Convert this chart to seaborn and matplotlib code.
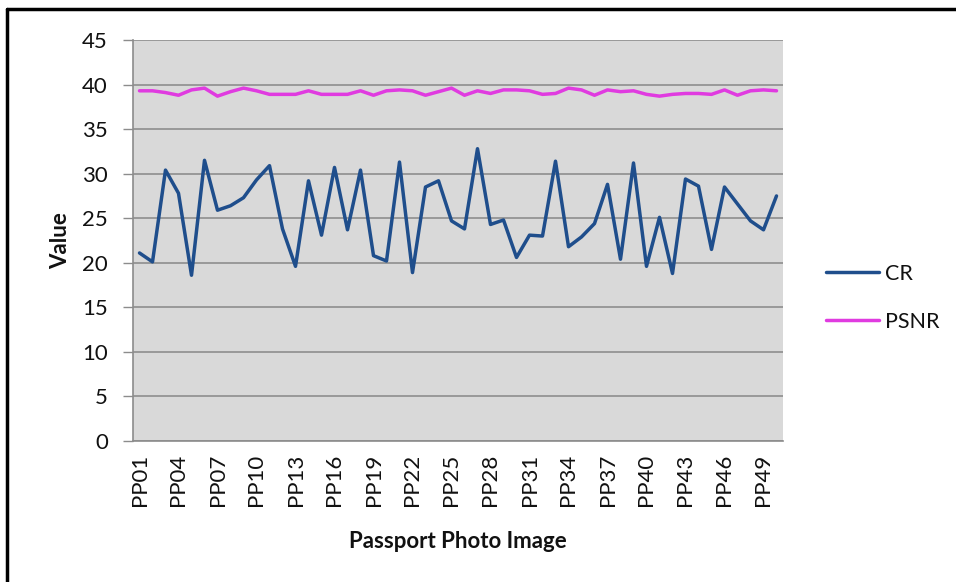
import numpy as np
import pandas as pd
import seaborn as sns
import matplotlib.pyplot as plt
from matplotlib.lines import Line2D

# Passport photo compression results
images = [f"PP{i:02d}" for i in range(1, 51)]

cr = [21.1, 20.1, 30.4, 27.8, 18.6, 31.5, 25.9, 26.4, 27.3, 29.3,
      30.9, 23.8, 19.6, 29.2, 23.1, 30.7, 23.7, 30.4, 20.8, 20.2,
      31.3, 18.9, 28.5, 29.2, 24.7, 23.8, 32.8, 24.3, 24.8, 20.6,
      23.1, 23.0, 31.4, 21.8, 22.9, 24.4, 28.8, 20.4, 31.2, 19.6,
      25.1, 18.8, 29.4, 28.6, 21.5, 28.5, 26.6, 24.7, 23.7, 27.5]

psnr = [39.3, 39.3, 39.1, 38.8, 39.4, 39.6, 38.7, 39.2, 39.6, 39.3,
        38.9, 38.9, 38.9, 39.3, 38.9, 38.9, 38.9, 39.3, 38.8, 39.3,
        39.4, 39.3, 38.8, 39.2, 39.6, 38.8, 39.3, 39.0, 39.4, 39.4,
        39.3, 38.9, 39.0, 39.6, 39.4, 38.8, 39.4, 39.2, 39.3, 38.9,
        38.7, 38.9, 39.0, 39.0, 38.9, 39.4, 38.8, 39.3, 39.4, 39.3]

series_names = ["CR", "PSNR"]
series_colors = ["#1f4e8c", "#e03be0"]

df = pd.DataFrame({
    "pos": list(range(len(images))) * 2,
    "Value": cr + psnr,
    "Series": ["CR"] * len(cr) + ["PSNR"] * len(psnr),
})

sns.set_theme(style="white")
plt.rcParams["font.family"] = ["Lato", "DejaVu Sans"]

fig = plt.figure(figsize=(9.56, 5.82), dpi=100)
ax = fig.add_axes([133 / 956, 1 - 441 / 582, (783 - 133) / 956, (441 - 40) / 582])
ax.set_facecolor("#d9d9d9")

sns.lineplot(data=df, x="pos", y="Value", hue="Series",
             palette=dict(zip(series_names, series_colors)),
             linewidth=2.5, ax=ax, legend=False)

ax.set_xlim(-0.5, len(images) - 0.5)
ax.set_ylim(0, 45)
ax.set_yticks(np.arange(0, 46, 5))
ax.tick_params(axis="y", labelsize=16, length=7, width=1, color="#8c8c8c",
               direction="out", pad=11, left=True, labelcolor="#111111")
ticks_x = list(range(0, len(images), 3))
ax.set_xticks(ticks_x)
ax.set_xticklabels([images[i] for i in ticks_x], rotation=90)
ax.tick_params(axis="x", labelsize=16, length=0, pad=9, labelcolor="#111111")

ax.grid(axis="y", color="#8e8e8e", linewidth=1.2)
ax.set_axisbelow(True)
for side in ["top", "right"]:
    ax.spines[side].set_visible(False)
for side in ["left", "bottom"]:
    ax.spines[side].set_color("#8c8c8c")
    ax.spines[side].set_linewidth(1.2)

ax.set_ylabel("Value", fontsize=16, fontweight="bold", labelpad=8, color="#111111")
ax.set_xlabel("Passport Photo Image", fontsize=16, fontweight="bold",
              labelpad=18, color="#111111")

handles = [Line2D([0], [0], color=c, linewidth=2.5) for c in series_colors]
fig.legend(handles, series_names, loc="center left",
           bbox_to_anchor=(817 / 956, 1 - 298 / 582), frameon=False,
           borderaxespad=0, fontsize=15.5, handlelength=2.5, handletextpad=0.25,
           labelspacing=1.3, labelcolor="#111111")

# outer frame along the top and left edge
fig.add_artist(Line2D([7 / 956, 1.0], [1 - 9 / 582, 1 - 9 / 582],
                      transform=fig.transFigure, color="black", linewidth=2.5))
fig.add_artist(Line2D([7 / 956, 7 / 956], [0.0, 1 - 9 / 582],
                      transform=fig.transFigure, color="black", linewidth=2.5))

fig.savefig("out.png", dpi=100)
